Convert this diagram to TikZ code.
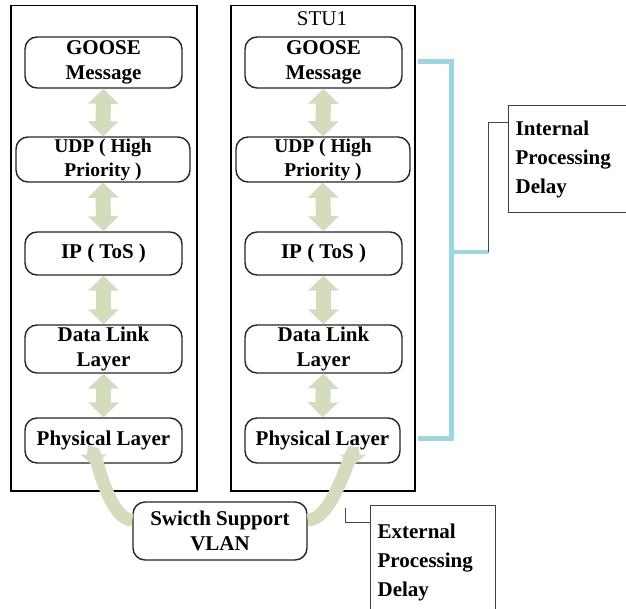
\documentclass[tikz,border=0pt]{standalone}
\usepackage{fontspec}
\setmainfont{LiberationSerif}[Extension=.ttf, UprightFont=*-Regular, BoldFont=*-Bold, ItalicFont=*-Italic, BoldItalicFont=*-BoldItalic]
\usetikzlibrary{arrows.meta,calc}
\definecolor{stackarrow}{RGB}{212,220,190}
\definecolor{bracketcyan}{RGB}{158,214,224}
\definecolor{linkgray}{RGB}{70,70,70}
\begin{document}
\begin{tikzpicture}[x=1pt,y=-1pt,
  stack/.style={draw=black, line width=1.5pt, inner sep=0pt},
  layerbox/.style={draw=black!85, line width=1.4pt, rounded corners=12pt, fill=white,
    align=center, inner sep=0pt, font=\bfseries\fontsize{21}{25}\selectfont},
  updown/.style={draw=stackarrow, line width=15pt,
    {Triangle[width=30pt,length=15pt]}-{Triangle[width=30pt,length=15pt]}},
  bendarrow/.style={draw=stackarrow, line width=13pt, -{Triangle[width=25pt,length=11pt]}},
  delaybox/.style={draw=black!75, line width=1.2pt, align=left, inner xsep=7pt,
    font=\bfseries\fontsize{21}{29}\selectfont},
  bracket/.style={draw=bracketcyan, line width=4.5pt},
  linkline/.style={draw=linkgray, line width=1pt}
]
\useasboundingbox (0,0) rectangle (626,609);
\fill[white] (0,0) rectangle (626,609);
\clip (0,0) rectangle (626,609);

% two protocol stacks
\node[stack, anchor=north west, minimum width=186, minimum height=485] (Lstack) at (10,5) {};
\node[stack, anchor=north west, minimum width=184, minimum height=485] (Rstack) at (230,5) {};
\node[font=\fontsize{21}{25}\selectfont] (stu) at (322,19) {STU1};

% left stack layers
\node[layerbox, minimum width=157, minimum height=51] (Lgoose) at (103.5,62.5) {GOOSE\\Message};
\node[layerbox, minimum width=174, minimum height=45, font=\bfseries\fontsize{19.5}{24}\selectfont] (Ludp) at (103,159.5) {UDP ( High\\Priority )};
\node[layerbox, minimum width=157, minimum height=43] (Lip) at (103.5,253.5) {IP ( ToS )};
\node[layerbox, minimum width=157, minimum height=48] (Ldl) at (103.5,349) {Data Link\\Layer};
\node[layerbox, minimum width=157, minimum height=45] (Lph) at (103.5,440.5) {Physical Layer};

% right stack layers
\node[layerbox, minimum width=157, minimum height=51] (Rgoose) at (323.5,62.5) {GOOSE\\Message};
\node[layerbox, minimum width=174, minimum height=45, font=\bfseries\fontsize{19.5}{24}\selectfont] (Rudp) at (323,159.5) {UDP ( High\\Priority )};
\node[layerbox, minimum width=157, minimum height=43] (Rip) at (323.5,253.5) {IP ( ToS )};
\node[layerbox, minimum width=157, minimum height=48] (Rdl) at (323.5,349) {Data Link\\Layer};
\node[layerbox, minimum width=155, minimum height=45] (Rph) at (322.5,440.5) {Physical Layer};

% vertical exchanges between layers
\foreach \s in {L,R}{
  \draw[updown] (\s goose.south) -- (\s udp.north);
  \draw[updown] (\s udp.south) -- (\s ip.north);
  \draw[updown] (\s ip.south) -- (\s dl.north);
  \draw[updown] (\s dl.south) -- (\s ph.north);
}

% switch between the two devices
\node[layerbox, minimum width=174, minimum height=58] (sw) at (220,531) {Swicth Support\\VLAN};
\draw[bendarrow] ($(sw.west)+(0,-11)$) to[out=180,in=90] ($(Lph.south)+(-10,2)$);
\draw[bendarrow] ($(sw.east)+(0,-11)$) to[out=0,in=90] ($(Rph.south)+(30.5,2)$);

% delay annotations
\node[delaybox, anchor=north west, minimum height=107, text width=128] (int) at (508,105) {Internal\\Processing\\Delay};
\node[delaybox, anchor=north west, minimum height=113, text width=111] (ext) at (370,505) {External\\Processing\\Delay};

\draw[bracket] ($(Rstack.east |- Rgoose.east)+(2,-1)$) -- ++(34,0) coordinate (brtop)
  |- ($(Rstack.east |- Rph.east)+(2,-2)$);
\coordinate (brmid) at (brtop |- 0,252);
\draw[bracket] (brmid) -- ++(37,0) coordinate (brtick);
\draw[linkline] (brtick) |- ($(int.north west)+(0,18)$);

\draw[linkline] ($(ext.north west)+(0,17)$) -| ($(ext.north west)+(-25,3)$);
\end{tikzpicture}
\end{document}
